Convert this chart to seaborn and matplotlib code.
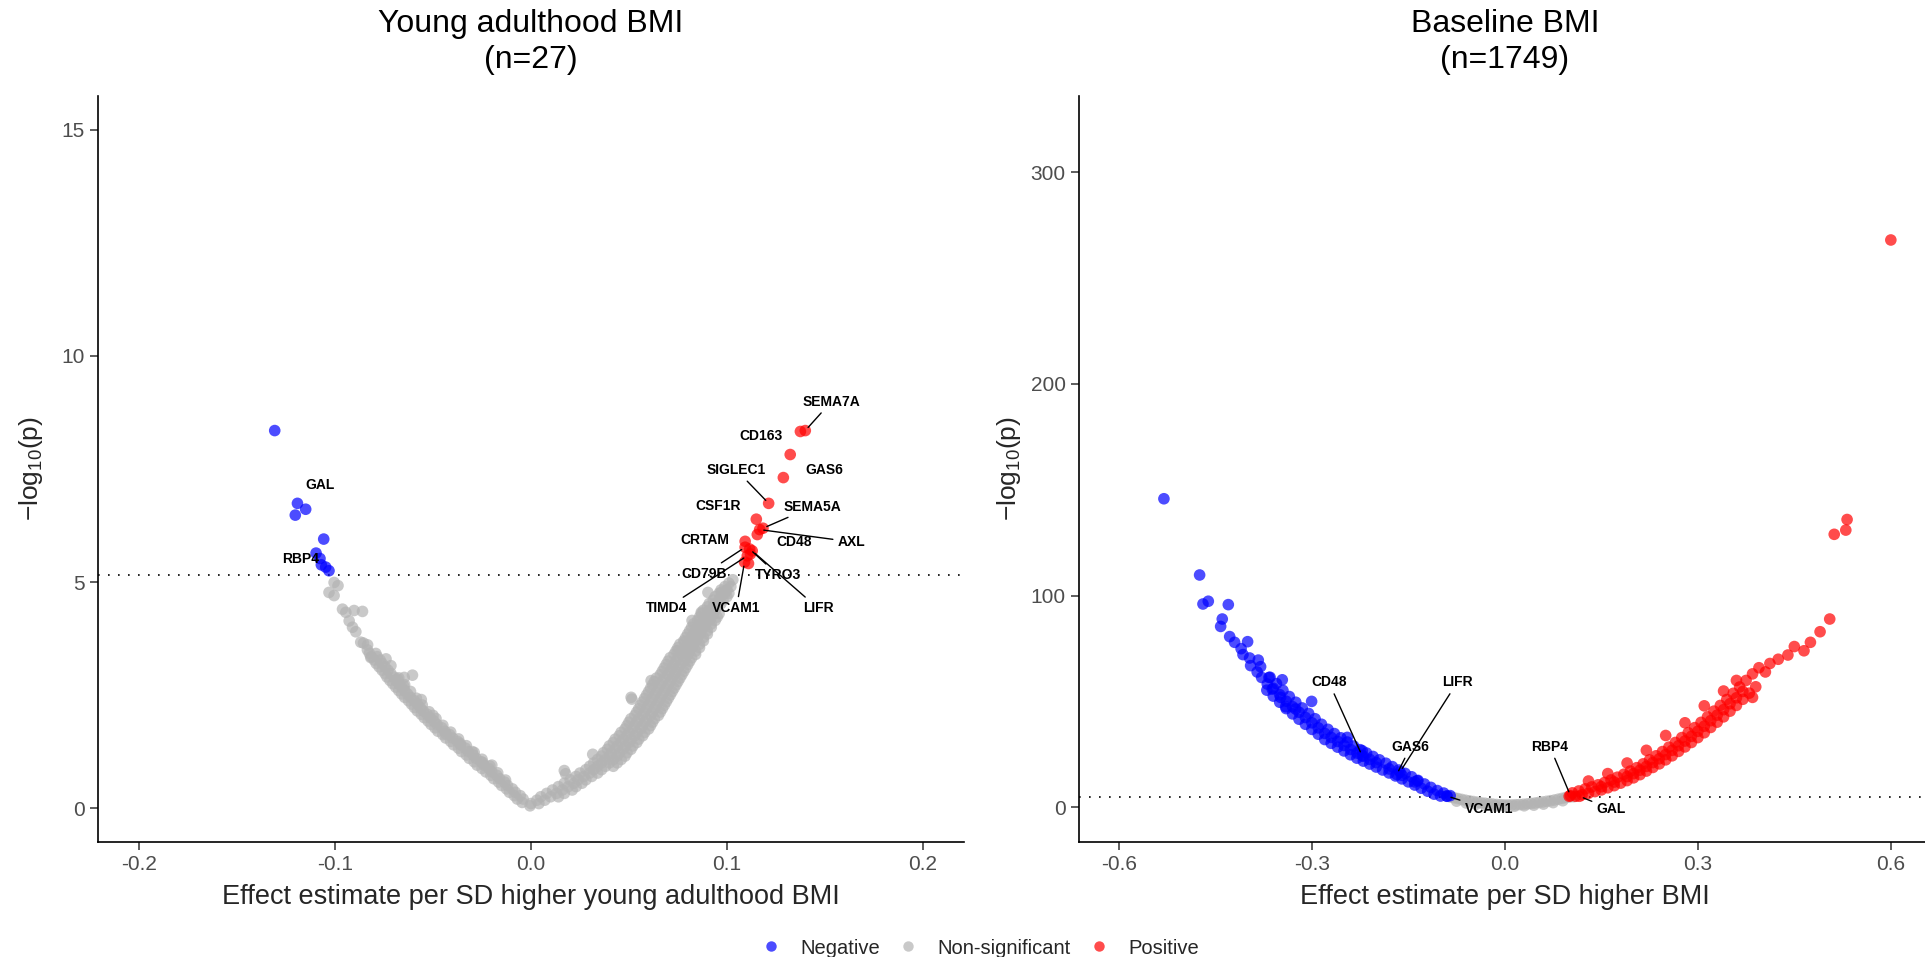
import numpy as np
import pandas as pd
import matplotlib
matplotlib.use("Agg")
import matplotlib.pyplot as plt
import seaborn as sns
from matplotlib.lines import Line2D

# ------------------------------------------------------------------ data
THRESH = 5.16

# Young adulthood BMI panel (beta, -log10 p)
young_grey_left = [
    (-0.0005, 0.05),
    (-0.0070, 0.20), (-0.0040, 0.20), (-0.0110, 0.35), (-0.0080, 0.35),
    (-0.0150, 0.50), (-0.0120, 0.50), (-0.0190, 0.65), (-0.0160, 0.65),
    (-0.0230, 0.80), (-0.0200, 0.80), (-0.0275, 0.95), (-0.0240, 0.95),
    (-0.0315, 1.10), (-0.0280, 1.10), (-0.0355, 1.25), (-0.0320, 1.25),
    (-0.0395, 1.40), (-0.0360, 1.40), (-0.0435, 1.55), (-0.0400, 1.55),
    (-0.0475, 1.70), (-0.0440, 1.70), (-0.0510, 1.85), (-0.0480, 1.85),
    (-0.0545, 2.00), (-0.0515, 2.00), (-0.0580, 2.15), (-0.0550, 2.15),
    (-0.0610, 2.30), (-0.0580, 2.30), (-0.0645, 2.45), (-0.0615, 2.45),
    (-0.0675, 2.60), (-0.0645, 2.60), (-0.0705, 2.75), (-0.0675, 2.75),
    (-0.0735, 2.90), (-0.0700, 2.90), (-0.0760, 3.05), (-0.0730, 3.05),
    (-0.0790, 3.20), (-0.0760, 3.20), (-0.0815, 3.35), (-0.0785, 3.35),
    (-0.0835, 3.50), (-0.0855, 3.65),
    (-0.0045, 0.125), (-0.0085, 0.275), (-0.0055, 0.275), (-0.0125, 0.425),
    (-0.0095, 0.425), (-0.0165, 0.575), (-0.0135, 0.575), (-0.0205, 0.725),
    (-0.0175, 0.725), (-0.0250, 0.875), (-0.0215, 0.875), (-0.0290, 1.025),
    (-0.0255, 1.025), (-0.0330, 1.175), (-0.0295, 1.175), (-0.0370, 1.325),
    (-0.0335, 1.325), (-0.0410, 1.475), (-0.0375, 1.475), (-0.0450, 1.625),
    (-0.0415, 1.625), (-0.0490, 1.775), (-0.0455, 1.775), (-0.0525, 1.925),
    (-0.0495, 1.925), (-0.0560, 2.075), (-0.0530, 2.075), (-0.0595, 2.225),
    (-0.0565, 2.225), (-0.0625, 2.375), (-0.0595, 2.375), (-0.0660, 2.525),
    (-0.0630, 2.525), (-0.0690, 2.675), (-0.0660, 2.675), (-0.0720, 2.825),
    (-0.0690, 2.825), (-0.0745, 2.975), (-0.0715, 2.975), (-0.0775, 3.125),
    (-0.0745, 3.125), (-0.0800, 3.275), (-0.0770, 3.275), (-0.0825, 3.425),
    (-0.0130, 0.62), (-0.0170, 0.78), (-0.0210, 0.93), (-0.0250, 1.08),
    (-0.0290, 1.23), (-0.0330, 1.38), (-0.0370, 1.53), (-0.0410, 1.68),
    (-0.0450, 1.83), (-0.0485, 1.98), (-0.0520, 2.13), (-0.0555, 2.28),
    (-0.0585, 2.43), (-0.0615, 2.58), (-0.0645, 2.73), (-0.0675, 2.88),
    (-0.1005, 4.99), (-0.0985, 4.92), (-0.1031, 4.77), (-0.1005, 4.70),
    (-0.0962, 4.40), (-0.0945, 4.33), (-0.0903, 4.37), (-0.0860, 4.35),
    (-0.0928, 4.14), (-0.0911, 4.00), (-0.0894, 3.90), (-0.0869, 3.67),
    (-0.0834, 3.61), (-0.0792, 3.42), (-0.0818, 3.33), (-0.0715, 3.15),
    (-0.0605, 2.94), (-0.0647, 2.89), (-0.0681, 2.85), (-0.0434, 1.64),
    (-0.0361, 1.43), (-0.0247, 1.01), (-0.0560, 2.40), (-0.0500, 2.05),
    (-0.0300, 1.25), (-0.0200, 0.95), (-0.0650, 2.70), (-0.0740, 3.30),
]
young_grey_right = [
    (0.000, 0.10), (0.004, 0.10),
    (0.005, 0.25), (0.010, 0.25), (0.014, 0.25),
    (0.011, 0.40), (0.016, 0.40), (0.021, 0.40),
    (0.017, 0.55), (0.022, 0.55), (0.026, 0.55),
    (0.023, 0.70), (0.027, 0.70), (0.031, 0.70),
    (0.028, 0.85), (0.032, 0.85), (0.036, 0.85),
    (0.032, 1.00), (0.036, 1.00), (0.040, 1.00),
    (0.036, 1.15), (0.040, 1.15), (0.044, 1.15),
    (0.039, 1.30), (0.043, 1.30), (0.047, 1.30),
    (0.042, 1.45), (0.046, 1.45), (0.050, 1.45),
    (0.045, 1.60), (0.049, 1.60), (0.053, 1.60),
    (0.048, 1.75), (0.052, 1.75), (0.056, 1.75),
    (0.050, 1.90), (0.054, 1.90), (0.058, 1.90),
    (0.053, 2.05), (0.057, 2.05), (0.061, 2.05),
    (0.055, 2.20), (0.059, 2.20), (0.063, 2.20),
    (0.057, 2.35), (0.061, 2.35), (0.065, 2.35),
    (0.059, 2.50), (0.063, 2.50), (0.067, 2.50),
    (0.061, 2.65), (0.065, 2.65), (0.069, 2.65),
    (0.063, 2.80), (0.067, 2.80), (0.071, 2.80),
    (0.066, 2.95), (0.070, 2.95), (0.073, 2.95),
    (0.068, 3.10), (0.072, 3.10), (0.075, 3.10),
    (0.070, 3.25), (0.074, 3.25), (0.078, 3.25),
    (0.073, 3.40), (0.077, 3.40), (0.080, 3.40),
    (0.075, 3.55), (0.079, 3.55), (0.082, 3.55),
    (0.078, 3.70), (0.081, 3.70), (0.084, 3.70),
    (0.080, 3.85), (0.083, 3.85), (0.086, 3.85),
    (0.082, 4.00), (0.085, 4.00), (0.088, 4.00),
    (0.085, 4.15), (0.088, 4.15), (0.091, 4.15),
    (0.087, 4.30), (0.090, 4.30), (0.093, 4.30),
    (0.090, 4.45), (0.093, 4.45), (0.095, 4.45),
    (0.093, 4.60), (0.096, 4.60), (0.098, 4.60),
    (0.096, 4.75), (0.099, 4.75), (0.101, 4.75),
    (0.099, 4.90), (0.102, 4.90), (0.103, 5.05),
    (0.044, 1.00), (0.048, 1.15), (0.051, 1.30), (0.054, 1.45), (0.057, 1.60),
    (0.060, 1.75), (0.062, 1.90), (0.065, 2.05), (0.067, 2.20), (0.069, 2.35),
    (0.071, 2.50), (0.073, 2.65), (0.075, 2.80), (0.077, 2.95), (0.079, 3.10),
    (0.081, 3.25), (0.084, 3.40), (0.086, 3.55), (0.088, 3.70), (0.090, 3.85),
    (0.092, 4.00), (0.094, 4.15), (0.096, 4.30),
    (0.003, 0.175), (0.007, 0.175),
    (0.008, 0.325), (0.013, 0.325), (0.017, 0.325),
    (0.014, 0.475), (0.019, 0.475), (0.023, 0.475),
    (0.020, 0.625), (0.024, 0.625), (0.028, 0.625),
    (0.025, 0.775), (0.030, 0.775), (0.034, 0.775),
    (0.030, 0.925), (0.034, 0.925), (0.038, 0.925), (0.042, 0.925),
    (0.034, 1.075), (0.038, 1.075), (0.042, 1.075), (0.046, 1.075),
    (0.037, 1.225), (0.041, 1.225), (0.045, 1.225), (0.049, 1.225),
    (0.040, 1.375), (0.044, 1.375), (0.048, 1.375), (0.052, 1.375),
    (0.043, 1.525), (0.047, 1.525), (0.051, 1.525), (0.055, 1.525),
    (0.046, 1.675), (0.050, 1.675), (0.054, 1.675), (0.058, 1.675),
    (0.049, 1.825), (0.053, 1.825), (0.057, 1.825), (0.061, 1.825),
    (0.051, 1.975), (0.055, 1.975), (0.059, 1.975), (0.063, 1.975),
    (0.054, 2.125), (0.058, 2.125), (0.062, 2.125), (0.066, 2.125),
    (0.056, 2.275), (0.060, 2.275), (0.064, 2.275), (0.068, 2.275),
    (0.058, 2.425), (0.062, 2.425), (0.066, 2.425), (0.070, 2.425),
    (0.060, 2.575), (0.064, 2.575), (0.068, 2.575), (0.072, 2.575),
    (0.062, 2.725), (0.066, 2.725), (0.070, 2.725), (0.074, 2.725),
    (0.064, 2.875), (0.068, 2.875), (0.072, 2.875), (0.076, 2.875),
    (0.067, 3.025), (0.071, 3.025), (0.074, 3.025), (0.078, 3.025),
    (0.069, 3.175), (0.073, 3.175), (0.076, 3.175), (0.080, 3.175),
    (0.071, 3.325), (0.075, 3.325), (0.079, 3.325), (0.082, 3.325),
    (0.074, 3.475), (0.078, 3.475), (0.081, 3.475), (0.084, 3.475),
    (0.076, 3.625), (0.080, 3.625), (0.083, 3.625), (0.086, 3.625),
    (0.079, 3.775), (0.082, 3.775), (0.085, 3.775), (0.088, 3.775),
    (0.081, 3.925), (0.084, 3.925), (0.087, 3.925), (0.090, 3.925),
    (0.083, 4.075), (0.086, 4.075), (0.089, 4.075), (0.092, 4.075),
    (0.086, 4.225), (0.089, 4.225), (0.092, 4.225), (0.095, 4.225),
    (0.088, 4.375), (0.091, 4.375), (0.094, 4.375),
    (0.091, 4.525), (0.094, 4.525), (0.097, 4.525),
    (0.094, 4.675), (0.097, 4.675), (0.100, 4.675),
    (0.097, 4.825), (0.100, 4.825), (0.101, 4.975),
    (0.0822, 4.15), (0.0515, 2.41), (0.0177, 0.76), (0.0783, 3.67),
    (0.0750, 3.48), (0.0613, 2.82), (0.0511, 2.45), (0.0315, 1.19),
    (0.0170, 0.83), (0.0903, 4.77), (0.0869, 4.33), (0.0971, 4.77),
]
young_sig = [
    (-0.1308, 8.35), (-0.1150, 6.61), (-0.1203, 6.48), (-0.1058, 5.95),
    (-0.1077, 5.52), (-0.1070, 5.38), (-0.1048, 5.33), (-0.1031, 5.25),
    (0.1375, 8.33), (0.1110, 5.41), (0.1120, 5.62),
]
young_genes = ["GAL", "RBP4", "SEMA7A", "CD163", "GAS6", "SIGLEC1", "CSF1R",
               "SEMA5A", "AXL", "CD48", "CRTAM", "CD79B", "TYRO3", "LIFR",
               "TIMD4", "VCAM1"]
young_gene_beta = [-0.1192, -0.1097, 0.1400, 0.1323, 0.1288, 0.1213, 0.1150,
                   0.1184, 0.1167, 0.1155, 0.1093, 0.1093, 0.1116, 0.1129,
                   0.1104, 0.1090]
young_gene_logp = [6.74, 5.64, 8.35, 7.82, 7.31, 6.74, 6.39,
                   6.19, 6.16, 6.05, 5.90, 5.77, 5.73, 5.69,
                   5.58, 5.44]

# Baseline BMI panel
base_grey = [
    (-0.085, 5.0), (-0.079, 4.6), (-0.073, 4.2), (-0.067, 3.8), (-0.061, 3.4),
    (-0.055, 3.1), (-0.049, 2.8), (-0.043, 2.5), (-0.037, 2.2), (-0.031, 2.0),
    (-0.025, 1.8), (-0.019, 1.6), (-0.013, 1.4), (-0.007, 1.3), (-0.001, 1.2),
    (0.005, 1.2), (0.011, 1.2), (0.017, 1.3), (0.023, 1.4), (0.029, 1.5),
    (0.035, 1.7), (0.041, 1.9), (0.047, 2.1), (0.053, 2.4), (0.059, 2.6),
    (0.065, 2.9), (0.071, 3.2), (0.077, 3.5), (0.083, 3.9), (0.089, 4.3),
    (0.095, 4.7), (0.101, 5.0), (0.107, 5.1),
    (-0.075, 3.0), (-0.060, 2.1), (-0.045, 1.5), (-0.030, 1.0), (-0.015, 0.7),
    (0.000, 0.5), (0.015, 0.6), (0.030, 0.8), (0.045, 1.1), (0.060, 1.6),
    (0.075, 2.3), (0.090, 3.2),
]
base_neg = [
    (-0.37, 55.4), (-0.36, 52.6), (-0.35, 49.7), (-0.34, 46.7), (-0.33, 44.2),
    (-0.32, 41.7), (-0.31, 39.3), (-0.30, 36.9), (-0.29, 34.6), (-0.28, 32.1),
    (-0.27, 30.3), (-0.26, 28.5), (-0.25, 26.7), (-0.24, 24.9), (-0.23, 23.3),
    (-0.22, 21.9), (-0.21, 20.5), (-0.20, 19.1), (-0.19, 17.7), (-0.18, 16.3),
    (-0.17, 14.9), (-0.16, 13.5), (-0.15, 12.1), (-0.14, 10.6), (-0.13, 9.1),
    (-0.12, 7.7), (-0.11, 6.3), (-0.10, 5.4), (-0.09, 5.3),
    (-0.365, 61.5), (-0.355, 58.5), (-0.345, 55.3), (-0.335, 52.4),
    (-0.325, 49.7), (-0.315, 47.0), (-0.305, 44.4), (-0.295, 41.9),
    (-0.285, 39.3), (-0.275, 36.9), (-0.265, 34.9), (-0.255, 32.9),
    (-0.245, 30.9), (-0.235, 29.0), (-0.225, 27.3), (-0.215, 25.7),
    (-0.205, 24.1), (-0.195, 22.5), (-0.185, 20.9), (-0.175, 19.3),
    (-0.165, 17.7), (-0.155, 16.1), (-0.145, 14.5), (-0.135, 12.8),
    (-0.125, 11.1), (-0.115, 9.5), (-0.105, 8.0), (-0.095, 6.8), (-0.085, 5.6),
    (-0.36, 56.3), (-0.35, 53.3), (-0.34, 50.2), (-0.33, 47.6), (-0.32, 45.0),
    (-0.31, 42.5), (-0.30, 40.0), (-0.29, 37.6), (-0.28, 35.0), (-0.27, 33.1),
    (-0.26, 31.2), (-0.25, 29.3), (-0.24, 27.4), (-0.23, 25.7), (-0.22, 24.2),
    (-0.21, 22.7), (-0.20, 21.2), (-0.18, 18.2), (-0.16, 15.2), (-0.14, 12.1),
    (-0.530, 145.8), (-0.4745, 109.8), (-0.4693, 96.1), (-0.4610, 97.4),
    (-0.4299, 95.8), (-0.4393, 89.0), (-0.4418, 85.5), (-0.4278, 80.7),
    (-0.4201, 78.0), (-0.3999, 78.3), (-0.4071, 72.2), (-0.3968, 70.6),
    (-0.3833, 69.6), (-0.3952, 67.0), (-0.3797, 66.5), (-0.3781, 61.4),
    (-0.3667, 61.4), (-0.3460, 60.3), (-0.3693, 58.3), (-0.3616, 55.9),
    (-0.3486, 52.0), (-0.3004, 50.1), (-0.3408, 47.6), (-0.3253, 46.5),
    (-0.2450, 33.1), (-0.2217, 26.8), (-0.1362, 12.6), (-0.41, 75.0),
    (-0.385, 64.0),
]
base_pos = [
    (0.10, 5.3), (0.11, 5.3), (0.12, 6.0), (0.13, 6.7), (0.14, 7.5),
    (0.15, 8.3), (0.16, 9.3), (0.17, 10.3), (0.18, 11.5), (0.19, 12.7),
    (0.20, 14.0), (0.21, 15.5), (0.22, 17.2), (0.23, 18.9), (0.24, 20.6),
    (0.25, 22.5), (0.26, 24.4), (0.27, 26.5), (0.28, 28.6), (0.29, 30.7),
    (0.30, 33.0), (0.31, 35.3), (0.32, 37.8), (0.33, 40.3), (0.34, 42.8),
    (0.35, 45.5), (0.36, 48.2), (0.37, 51.1), (0.38, 54.0),
    (0.105, 6.9), (0.115, 7.8), (0.125, 8.8), (0.135, 9.7), (0.145, 10.7),
    (0.155, 11.8), (0.165, 13.0), (0.175, 14.3), (0.185, 15.7),
    (0.195, 17.2), (0.205, 18.8), (0.215, 20.6), (0.225, 22.5),
    (0.235, 24.4), (0.245, 26.4), (0.255, 28.5), (0.265, 30.7),
    (0.275, 33.0), (0.285, 35.3), (0.295, 37.7), (0.305, 40.2),
    (0.315, 42.8), (0.325, 45.5), (0.335, 48.2), (0.345, 51.0),
    (0.355, 53.9), (0.365, 56.9), (0.375, 60.0), (0.385, 63.1),
    (0.15, 9.8), (0.17, 12.0), (0.19, 14.6), (0.20, 16.0), (0.21, 17.6),
    (0.22, 19.4), (0.23, 21.2), (0.24, 23.0), (0.25, 25.0), (0.26, 27.0),
    (0.27, 29.2), (0.28, 31.4), (0.29, 33.6), (0.30, 36.0), (0.31, 38.4),
    (0.32, 41.0), (0.33, 43.6), (0.34, 46.2), (0.35, 49.0), (0.36, 51.8),
    (0.37, 54.8),
    (0.395, 66.0), (0.405, 64.0), (0.412, 68.0), (0.425, 70.0), (0.440, 72.0),
    (0.450, 76.0), (0.465, 74.0), (0.475, 78.0), (0.490, 83.0), (0.505, 89.0),
    (0.512, 129.0), (0.530, 131.0), (0.532, 136.0), (0.600, 268.0),
    (0.390, 57.0), (0.360, 60.0), (0.340, 55.0), (0.310, 48.0), (0.280, 40.0),
    (0.250, 34.0), (0.220, 27.0), (0.190, 21.0), (0.160, 16.0), (0.130, 12.5),
    (0.385, 52.0),
]
base_genes = ["CD48", "LIFR", "GAS6", "VCAM1", "RBP4", "GAL"]
base_gene_beta = [-0.222, -0.163, -0.168, -0.090, 0.102, 0.116]
base_gene_logp = [24.5, 16.8, 15.6, 5.4, 5.6, 5.3]

categories = ["Negative", "Non-significant", "Positive"]
palette = {"Negative": "#0000FF", "Non-significant": "#B3B3B3", "Positive": "#FF0000"}

# label placement (text position in data units, draw segment?)
young_label_pos = {
    "GAL": (-0.1077, 7.14, False), "RBP4": (-0.1175, 5.52, False),
    "SEMA7A": (0.1533, 8.99, True), "CD163": (0.1175, 8.24, False),
    "GAS6": (0.1496, 7.48, False), "SIGLEC1": (0.1048, 7.48, True),
    "CSF1R": (0.0954, 6.69, False), "SEMA5A": (0.1439, 6.67, True),
    "AXL": (0.1635, 5.89, True), "CD48": (0.1345, 5.89, False),
    "CRTAM": (0.0886, 5.94, False), "CD79B": (0.0886, 5.18, True),
    "TYRO3": (0.1261, 5.15, True), "LIFR": (0.1465, 4.42, True),
    "TIMD4": (0.0690, 4.42, True), "VCAM1": (0.1048, 4.42, True),
}
base_label_pos = {
    "CD48": (-0.2735, 59.1, True), "LIFR": (-0.074, 59.1, True),
    "GAS6": (-0.1466, 28.7, True), "VCAM1": (-0.025, -0.8, True),
    "RBP4": (0.070, 28.7, True), "GAL": (0.165, -0.8, True),
}

# ------------------------------------------------------------------ style
sns.set_theme(style="white")
plt.rcParams["font.family"] = ["Liberation Sans", "DejaVu Sans"]
plt.rcParams["mathtext.fontset"] = "custom"
plt.rcParams["mathtext.rm"] = "Liberation Sans"
plt.rcParams["mathtext.it"] = "Liberation Sans:italic"
plt.rcParams["axes.unicode_minus"] = False


def frame(points, gbeta, glogp):
    b = [p[0] for p in points] + list(gbeta)
    l = [p[1] for p in points] + list(glogp)
    df = pd.DataFrame({"beta": b, "logp": l})
    df["Direction"] = np.where(df["logp"] > THRESH,
                               np.where(df["beta"] < 0, "Negative", "Positive"),
                               "Non-significant")
    order = {"Non-significant": 0, "Negative": 1, "Positive": 2}
    df["o"] = df["Direction"].map(order)
    return df.sort_values("o", kind="stable")


young_df = frame(young_grey_left + young_grey_right + young_sig,
                 young_gene_beta, young_gene_logp)
base_df = frame(base_grey + base_neg + base_pos, base_gene_beta, base_gene_logp)

W, H = 1925, 957
fig = plt.figure(figsize=(W / 100, H / 100), dpi=100)
ax1 = fig.add_axes([98 / W, 1 - 842 / H, 866 / W, 746 / H])
ax2 = fig.add_axes([1079 / W, 1 - 842 / H, 853 / W, 746 / H])


def draw(ax, df, genes, gbeta, glogp, lpos, xlim, ylim, xticks, yticks):
    sns.scatterplot(data=df, x="beta", y="logp", hue="Direction", palette=palette,
                    s=70, alpha=0.7, linewidth=0, legend=False, ax=ax, zorder=2)
    ax.axhline(THRESH, color="black", lw=1.2, ls=(0, (1, 5)), zorder=1)
    for g, bx, by in zip(genes, gbeta, glogp):
        tx, ty, seg = lpos[g]
        if seg:
            ax.annotate(g, xy=(bx, by), xytext=(tx, ty), textcoords="data",
                        ha="center", va="center", fontsize=10, fontweight="bold",
                        color="black", zorder=4,
                        arrowprops=dict(arrowstyle="-", color="black", lw=1.0,
                                        shrinkA=1, shrinkB=3))
        else:
            ax.text(tx, ty, g, ha="center", va="center", fontsize=10,
                    fontweight="bold", color="black", zorder=4)
    ax.set_xlim(*xlim)
    ax.set_ylim(*ylim)
    ax.set_xticks(xticks)
    ax.set_xticklabels(["{:.1f}".format(v) for v in xticks])
    ax.set_yticks(yticks)
    ax.set_xlabel("")
    ax.set_ylabel("")
    for s in ["top", "right"]:
        ax.spines[s].set_visible(False)
    for s in ["left", "bottom"]:
        ax.spines[s].set_color("black")
        ax.spines[s].set_linewidth(1.2)
    ax.tick_params(axis="both", which="both", direction="out", length=5.5, width=1.1,
                   color="#333333", labelsize=15, labelcolor="#4D4D4D", pad=4,
                   bottom=True, left=True)
    ax.set_facecolor("white")


draw(ax1, young_df, young_genes, young_gene_beta, young_gene_logp, young_label_pos,
     (-0.221, 0.221), (-0.75, 15.75), [-0.2, -0.1, 0.0, 0.1, 0.2], [0, 5, 10, 15])
draw(ax2, base_df, base_genes, base_gene_beta, base_gene_logp, base_label_pos,
     (-0.662, 0.664), (-16.3, 336), [-0.6, -0.3, 0.0, 0.3, 0.6], [0, 100, 200, 300])

# titles and axis titles
fig.text(531 / W, 1 - 42 / H, "Young adulthood BMI\n(n=27)", ha="center", va="center",
         fontsize=23, linespacing=1.3, color="black")
fig.text(1505 / W, 1 - 42 / H, "Baseline BMI\n(n=1749)", ha="center", va="center",
         fontsize=23, linespacing=1.3, color="black")
fig.text(531 / W, 1 - 897 / H, "Effect estimate per SD higher young adulthood BMI",
         ha="center", va="center", fontsize=19.5)
fig.text(1505 / W, 1 - 897 / H, "Effect estimate per SD higher BMI",
         ha="center", va="center", fontsize=19.5)
ylab = r"$-\mathrm{log}_{10}(\mathrm{p})$"
fig.text(31 / W, 1 - 469 / H, ylab, rotation=90, ha="center", va="center", fontsize=19)
fig.text(1009 / W, 1 - 469 / H, ylab, rotation=90, ha="center", va="center", fontsize=19)

handles = [Line2D([], [], marker="o", ls="", color=palette[c], alpha=0.7,
                  markersize=7.5, markeredgewidth=0) for c in categories]
fig.legend(handles, categories, loc="center", bbox_to_anchor=(980 / W, 1 - 948 / H),
           ncol=3, frameon=False, fontsize=14.5, handlelength=1.0,
           handletextpad=0.95, columnspacing=0.9, borderpad=0.0)

fig.savefig("out.png", dpi=100, facecolor="white")
